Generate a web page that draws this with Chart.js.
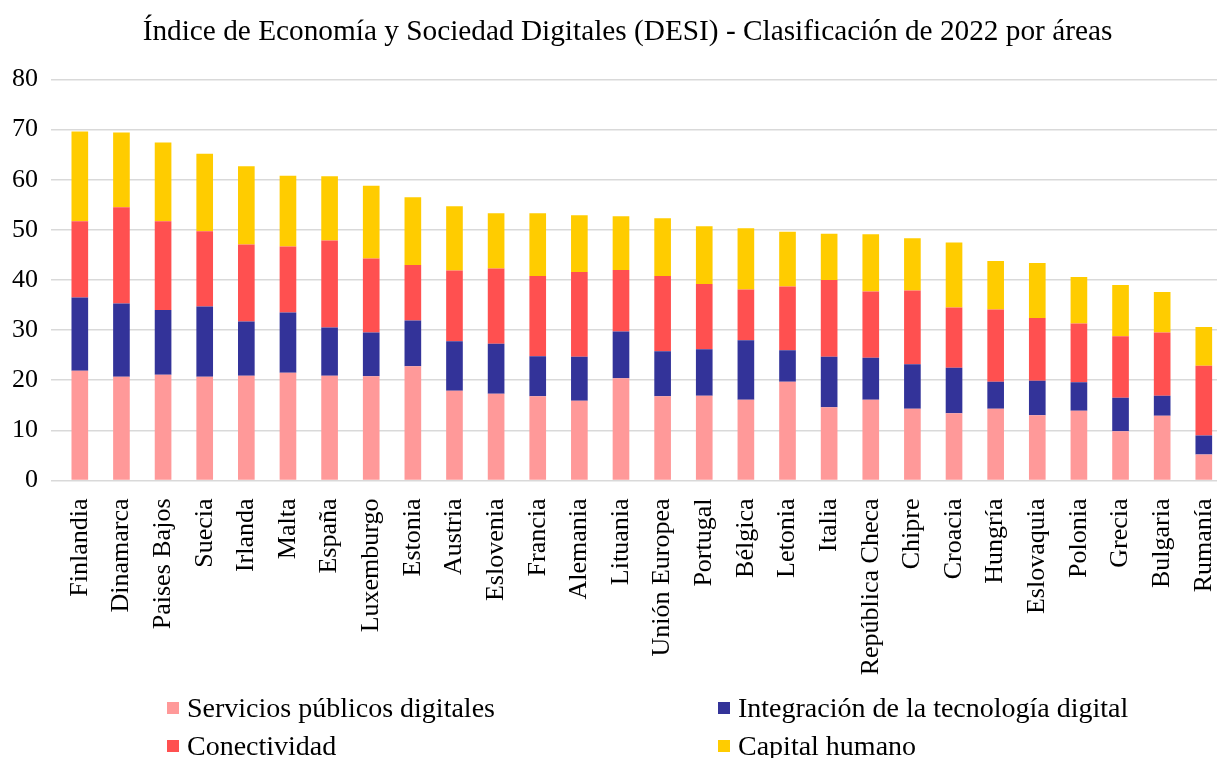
<!DOCTYPE html>
<html lang="es">
<head>
<meta charset="utf-8">
<title>DESI 2022</title>
<script src="https://cdn.jsdelivr.net/npm/chart.js@4.4.1/dist/chart.umd.min.js"></script>
<style>
  html, body { margin: 0; padding: 0; background: #fff; }
  #wrap { position: relative; width: 1217px; height: 758px; overflow: hidden; }
  #wrap canvas { position: absolute; left: 0; top: 0; }
  #legend { position: absolute; left: 0; top: 0; width: 1217px; height: 758px; pointer-events: none;
            font-family: "Liberation Serif", "Times New Roman", serif; font-size: 28px; color: #000; }
  .item { position: absolute; display: flex; align-items: center; white-space: nowrap; }
  .box { width: 12px; height: 12px; margin-right: 8px; }
</style>
</head>
<body>
<div id="wrap">
  <canvas id="myChart" width="1245" height="758"></canvas>
  <div id="legend"></div>
</div>
<script>
const paises = ["Finlandia", "Dinamarca", "Paises Bajos", "Suecia", "Irlanda", "Malta", "España", "Luxemburgo",
	"Estonia", "Austria", "Eslovenia", "Francia", "Alemania", "Lituania", "Unión Europea", "Portugal", "Bélgica",
	"Letonia", "Italia", "República Checa", "Chipre", "Croacia", "Hungría", "Eslovaquia", "Polonia", "Grecia",
	"Bulgaria", "Rumanía"];

const servicios = [21.9, 20.7, 21.1, 20.7, 20.9, 21.5, 20.9, 20.8, 22.8, 17.9, 17.3, 16.8, 15.9, 20.4, 16.8, 16.9,
	16.1, 19.7, 14.6, 16.1, 14.3, 13.4, 14.3, 13.0, 13.9, 9.8, 12.9, 5.2];
const integracion = [14.6, 14.6, 12.9, 14.0, 10.8, 12.0, 9.6, 8.7, 9.1, 9.9, 10.0, 8.0, 8.8, 9.3, 9.0, 9.3,
	11.9, 6.3, 10.1, 8.4, 8.9, 9.1, 5.4, 6.9, 5.7, 6.7, 4.0, 3.8];
const conectividad = [15.2, 19.2, 17.7, 15.0, 15.4, 13.2, 17.4, 14.8, 11.1, 14.1, 15.0, 16.0, 16.9, 12.3, 15.0, 13.0,
	10.1, 12.7, 15.3, 13.2, 14.7, 12.0, 14.4, 12.5, 11.7, 12.3, 12.6, 13.9];
const capital = [17.9, 14.9, 15.7, 15.5, 15.6, 14.1, 12.8, 14.5, 13.5, 12.8, 11.0, 12.5, 11.3, 10.7, 11.5, 11.5,
	12.2, 10.9, 9.2, 11.4, 10.4, 13.0, 9.7, 11.0, 9.3, 10.2, 8.1, 7.7];

const yTicks = [0, 10, 20, 30, 40, 50, 60, 70, 80];

const serif = "'Liberation Serif', 'Times New Roman', serif";

// series in stacking order, bottom to top
const series = [
	{ label: "Servicios públicos digitales", data: servicios, color: "#ff9999" },
	{ label: "Integración de la tecnología digital", data: integracion, color: "#333399" },
	{ label: "Conectividad", data: conectividad, color: "#ff5050" },
	{ label: "Capital humano", data: capital, color: "#ffcc00" },
];

const ctx = document.getElementById("myChart").getContext("2d");
const myChart = new Chart(ctx, {
	type: "bar",
	data: {
		labels: paises,
		datasets: series.map((s) => ({
			label: s.label,
			data: s.data,
			backgroundColor: s.color,
			borderWidth: 0,
			categoryPercentage: 1,
			barPercentage: 0.4,
		})),
	},
	options: {
		responsive: false,
		animation: false,
		layout: { padding: { left: 10, right: 0, top: 0, bottom: 77.5 } },
		plugins: {
			legend: { display: false },
			tooltip: { enabled: false },
			title: {
				display: true,
				text: "Índice de Economía y Sociedad Digitales (DESI) - Clasificación de 2022 por áreas",
				color: "#000",
				font: { family: serif, size: 29.3, weight: "normal", lineHeight: 1.2 },
				padding: { top: 15, bottom: 29.3 },
			},
		},
		scales: {
			x: {
				stacked: true,
				grid: { display: false },
				border: { display: false },
				ticks: {
					color: "#000",
					font: { family: serif, size: 26 },
					minRotation: 90,
					maxRotation: 90,
					autoSkip: false,
					padding: 10,
				},
				afterFit: (scale) => { scale.height = 200; },
			},
			y: {
				stacked: true,
				min: 0,
				max: 80,
				border: { display: false },
				grid: { color: "#d9d9d9", lineWidth: 1.5, tickLength: 8, tickColor: "#d9d9d9" },
				afterBuildTicks: (scale) => { scale.ticks = yTicks.map((v) => ({ value: v })); },
				ticks: {
					color: "#000",
					font: { family: serif, size: 26 },
					padding: 13,
				},
				afterFit: (scale) => { scale.width = 49; },
			},
		},
	},
});

// legend in two columns under the axis
const legendPos = [[167, 708], [718, 708], [167, 746], [718, 746]];
const legend = document.getElementById("legend");
series.forEach((s, i) => {
	const item = document.createElement("div");
	item.className = "item";
	item.style.left = legendPos[i][0] + "px";
	item.style.top = (legendPos[i][1] - 16) + "px";
	item.innerHTML = '<span class="box" style="background:' + s.color + '"></span>' + s.label;
	legend.appendChild(item);
});
</script>
</body>
</html>
